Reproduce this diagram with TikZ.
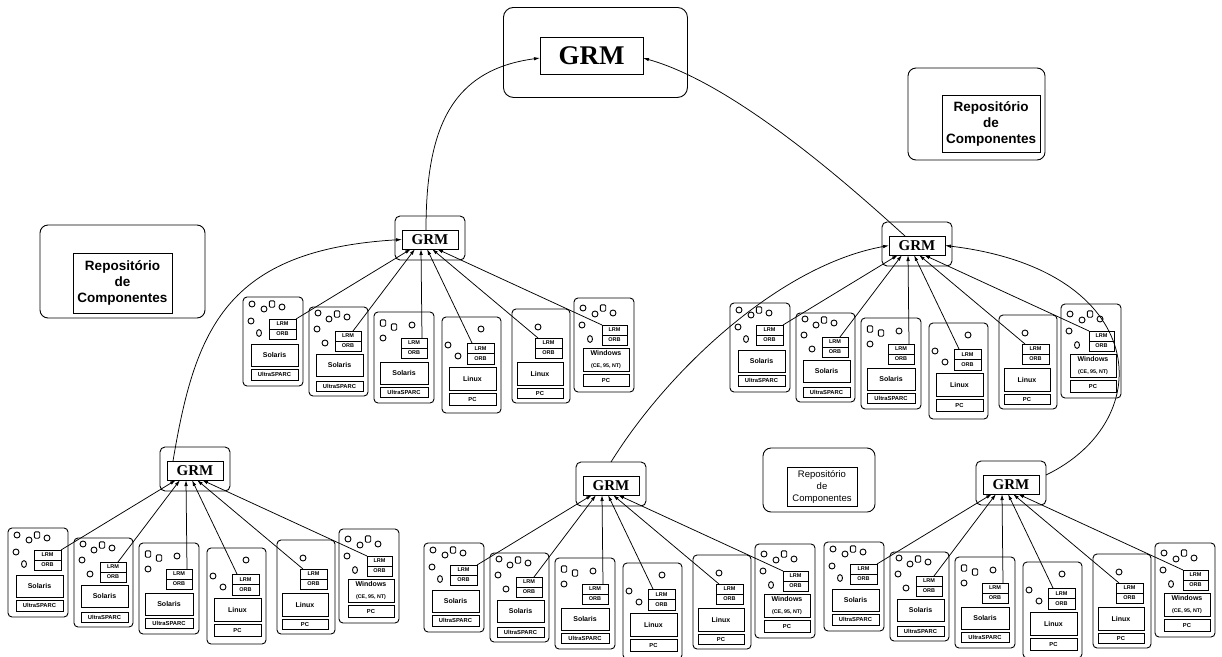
\documentclass[tikz,border=0pt]{standalone}
\usepackage{fontspec}
\setmainfont{Liberation Sans}
\newfontfamily\serifb{Liberation Serif}
\usetikzlibrary{arrows.meta}
\tikzset{
  mach/.style={draw, rounded corners=4pt, anchor=north west, inner sep=0pt, outer sep=0pt},
  cbox/.style={draw, anchor=north west, inner sep=0pt, outer sep=0pt, align=center},
  lrmt/.style={cbox, font=\fontsize{5.5}{5.5}\selectfont\bfseries, minimum height=10pt},
  ost/.style={cbox, font=\fontsize{7}{7}\selectfont\bfseries},
  bott/.style={cbox, font=\fontsize{5.8}{6}\selectfont\bfseries},
  grmin/.style={cbox, font=\serifb\bfseries\fontsize{15}{15}\selectfont, minimum width=56pt, minimum height=19pt},
  grmout/.style={draw, rounded corners=5pt, anchor=north west, inner sep=0pt, outer sep=0pt, minimum width=70pt, minimum height=44pt},
  repout/.style={draw, rounded corners=8pt, anchor=north west, inner sep=0pt, outer sep=0pt},
  arr/.style={-{Latex[length=6pt,width=3.5pt]}, line width=0.75pt},
}
\newcommand\mcirc[2]{\draw (#1,#2) circle[radius=3pt];}
\newcommand\msq[2]{\draw[rounded corners=1.2pt,shift={(#1,#2)}] (-2.7,-3.2) rectangle (2.7,3.2);}
\newcommand\movl[2]{\draw (#1,#2) ellipse[x radius=2.5pt, y radius=3.4pt];}
\newcommand\cluster[3]{%
\begin{scope}[shift={(#2,#3)}]
% machine 1
\node[mach,minimum width=60pt,minimum height=89pt] (#1m1) at (0,0) {};
\node[lrmt,minimum width=27pt] (#1l1) at (26,22) {LRM};
\node[lrmt,minimum width=27pt] (#1r1) at (26,32) {ORB};
\node[ost,minimum width=47pt,minimum height=22pt] (#1s1) at (8,47) {Solaris};
\node[bott,minimum width=47pt,minimum height=11pt] (#1u1) at (8,72) {UltraSPARC};
\mcirc{9}{7}\mcirc{21}{12}\msq{29}{7}\mcirc{39}{10}\mcirc{8}{24}\movl{16}{36}
% machine 2
\node[mach,minimum width=59pt,minimum height=89pt] (#1m2) at (66,10) {};
\node[lrmt,minimum width=26pt] (#1l2) at (92,34) {LRM};
\node[lrmt,minimum width=26pt] (#1r2) at (92,44) {ORB};
\node[ost,minimum width=47pt,minimum height=22pt] (#1s2) at (73,57) {Solaris};
\node[bott,minimum width=47pt,minimum height=10pt] (#1u2) at (73,84) {UltraSPARC};
\mcirc{75}{16}\mcirc{86}{22}\msq{94}{17}\mcirc{104}{20}\mcirc{74}{32}\mcirc{82}{46}
% machine 3
\node[mach,minimum width=60pt,minimum height=91pt] (#1m3) at (131,15) {};
\node[lrmt,minimum width=26pt] (#1l3) at (158,41) {LRM};
\node[lrmt,minimum width=26pt] (#1r3) at (158,51) {ORB};
\node[ost,minimum width=48pt,minimum height=22pt] (#1s3) at (137,65) {Solaris};
\node[bott,minimum width=48pt,minimum height=10pt] (#1u3) at (137,90) {UltraSPARC};
\msq{140}{26}\msq{151}{30}\mcirc{169}{28}\mcirc{140}{41}
% machine 4
\node[mach,minimum width=59pt,minimum height=96pt] (#1m4) at (199,20) {};
\node[lrmt,minimum width=27pt,minimum height=10.5pt] (#1l4) at (224,46) {LRM};
\node[lrmt,minimum width=27pt,minimum height=10.5pt] (#1r4) at (224,56.5) {ORB};
\node[ost,minimum width=47pt,minimum height=23pt] (#1s4) at (206,70) {Linux};
\node[bott,minimum width=47pt,minimum height=12pt] (#1u4) at (206,96) {PC};
\mcirc{238}{32}\mcirc{205}{48}\mcirc{215}{59}
% machine 5
\node[mach,minimum width=58pt,minimum height=94pt] (#1m5) at (269,12) {};
\node[lrmt,minimum width=27pt] (#1l5) at (292,41) {LRM};
\node[lrmt,minimum width=27pt] (#1r5) at (292,51) {ORB};
\node[ost,minimum width=46pt,minimum height=23pt] (#1s5) at (274,65) {Linux};
\node[bott,minimum width=46pt,minimum height=10pt] (#1u5) at (274,91) {PC};
\mcirc{295}{30}
% machine 6
\node[mach,minimum width=60pt,minimum height=94pt] (#1m6) at (331,1) {};
\node[lrmt,minimum width=25pt] (#1l6) at (359,28) {LRM};
\node[lrmt,minimum width=25pt] (#1r6) at (359,38) {ORB};
\node[cbox,font=\bfseries,minimum width=46pt,minimum height=23pt] (#1s6) at (340,51) {{\fontsize{7}{7}\selectfont Windows}\\[-0.5pt]{\fontsize{5.3}{6}\selectfont(CE, 95, NT)}};
\node[bott,minimum width=46pt,minimum height=12pt] (#1u6) at (340,77) {PC};
\mcirc{340}{11}\mcirc{352}{17}\msq{360}{11}\mcirc{370}{16}\mcirc{339}{28}\movl{347}{42}
% GRM
\node[grmout] (#1go) at (152,-81) {};
\node[grmin] (#1g) at (159,-67) {GRM};
\draw[arr] (#1l1.north east) -- ([xshift=9pt]#1g.south west);
\draw[arr] ([xshift=-8pt]#1l2.north east) -- ([xshift=13pt]#1g.south west);
\draw[arr] ([xshift=-5pt]#1l3.north east) -- ([xshift=19pt]#1g.south west);
\draw[arr] ([xshift=5pt]#1l4.north west) -- ([xshift=25pt]#1g.south west);
\draw[arr] ([xshift=3pt]#1l5.north west) -- ([xshift=30pt]#1g.south west);
\draw[arr] (#1l6.north west) -- ([xshift=35pt]#1g.south west);
\end{scope}}
\begin{document}
\begin{tikzpicture}[x=1pt,y=-1pt,line width=0.9pt]
\fill[white] (0,0) rectangle (1222,656);
\useasboundingbox (0,0) rectangle (1222,656);
% top GRM
\node[draw, rounded corners=10pt, anchor=north west, minimum width=184pt, minimum height=90pt, inner sep=0pt] (topo) at (503,7) {};
\node[cbox, font=\serifb\bfseries\fontsize{27}{27}\selectfont, minimum width=103pt, minimum height=37pt] (top) at (540,37) {GRM};
% repositories
\node[repout, minimum width=137pt, minimum height=92pt] (rep1o) at (908,68) {};
\node[cbox, font=\bfseries\fontsize{13.5}{16}\selectfont, minimum width=98pt, minimum height=57pt] (rep1) at (942,95) {Repositório\\de\\Componentes};
\node[repout, minimum width=165pt, minimum height=93pt] (rep2o) at (40,225) {};
\node[cbox, font=\bfseries\fontsize{13.5}{16}\selectfont, minimum width=99pt, minimum height=60pt] (rep2) at (73,253) {Repositório\\de\\Componentes};
\node[repout, minimum width=112pt, minimum height=64pt] (rep3o) at (763,448) {};
\node[cbox, font=\fontsize{9.5}{12}\selectfont, minimum width=70pt, minimum height=39pt] (rep3) at (787,467) {Repositório\\de\\Componentes};
% clusters
\cluster{a}{243}{297}
\cluster{b}{730}{303}
\cluster{c}{8}{528}
\cluster{d}{424}{543}
\cluster{e}{824}{542}
% inter-level connectors
\draw[arr] ([xshift=6pt]cg.north west) .. controls (195,330) and (225,250) .. (ag.west);
\draw[arr] ([xshift=-4pt]ag.north) .. controls (426,130) and (450,70) .. ([yshift=-2.5pt]top.west);
\draw[arr] ([xshift=-12pt]bg.north) .. controls (865,200) and (740,85) .. ([yshift=-2.5pt]top.east);
\draw[arr] (dgo.north) .. controls (668,370) and (780,265) .. (bg.west);
\draw[arr] ([yshift=8pt]ego.east) .. controls (1160,420) and (1150,270) .. (bg.east);
\end{tikzpicture}
\end{document}
